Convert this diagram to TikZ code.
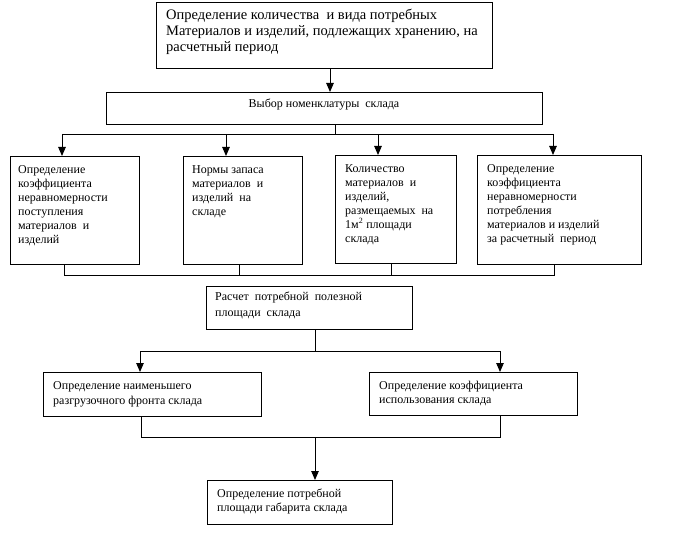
\documentclass[tikz,border=0pt]{standalone}
\usepackage{fontspec}
\setmainfont{Liberation Serif}
\usetikzlibrary{arrows.meta}
\begin{document}
\begin{tikzpicture}[x=1pt,y=-1pt,
  box/.style={draw, line width=1.1pt, inner sep=0pt, anchor=north west},
  txt/.style={inner sep=0pt, anchor=north west, align=left, font=\fontsize{12}{14}\selectfont},
  conn/.style={line width=0.9pt},
  arr/.style={conn, -{Triangle[width=7.5pt,length=9pt]}}]
\path[fill=white, use as bounding box] (0,0) rectangle (674,540);

% boxes
\node[box, minimum width=336pt, minimum height=66pt] (top) at (156,2) {};
\node[box, minimum width=436pt, minimum height=32pt] (nom) at (106,92) {};
\node[box, minimum width=129pt, minimum height=108pt] (b1) at (10,156) {};
\node[box, minimum width=119pt, minimum height=108pt] (b2) at (183,156) {};
\node[box, minimum width=121pt, minimum height=108pt] (b3) at (335,155) {};
\node[box, minimum width=164pt, minimum height=109pt] (b4) at (477,155) {};
\node[box, minimum width=206pt, minimum height=43pt] (calc) at (206,286) {};
\node[box, minimum width=218pt, minimum height=44pt] (bl) at (43,372) {};
\node[box, minimum width=208pt, minimum height=43pt] (br) at (369,372) {};
\node[box, minimum width=185pt, minimum height=44pt] (bot) at (207,480) {};

% texts
\node[txt, font=\fontsize{14.5}{16}\selectfont] (ttop) at (166,9) {Определение количества\ \ и вида потребных\\Материалов и изделий, подлежащих хранению, на\\расчетный период};
\node[inner sep=0pt, font=\fontsize{12}{14}\selectfont] (tnom) at (324,105) {Выбор номенклатуры\ \ склада};
\node[txt] (t1) at (18,165) {Определение\\коэффициента\\неравномерности\\поступления\\материалов\ \ и\\изделий};
\node[txt] (t2) at (192,165) {Нормы запаса\\материалов\ \ и\\изделий\ \ на\\складе};
\node[txt] (t3) at (345,164) {Количество\\материалов\ \ и\\изделий,\\размещаемых\ \ на\\1м\textsuperscript{2} площади\\склада};
\node[txt] (t4) at (487,164) {Определение\\коэффициента\\неравномерности\\потребления\\материалов и изделий\\за расчетный\ \ период};
\node[txt, font=\fontsize{12}{16}\selectfont] (tcalc) at (215,292) {Расчет\ \ потребной\ \ полезной\\площади\ \ склада};
\node[txt, font=\fontsize{12}{15}\selectfont] (tl) at (53,381) {Определение наименьшего\\разгрузочного фронта склада};
\node[txt] (tr) at (379,381) {Определение коэффициента\\использования склада};
\node[txt] (tb) at (217,489) {Определение потребной\\площади габарита склада};

% connectors: top -> nom
\coordinate (c0) at (330,80);
\draw[arr] (c0 |- top.south) -- (c0 |- nom.north);

% nom -> row of four
\coordinate (bus1) at (335,134);
\coordinate (a1) at (62,134);
\coordinate (a2) at (226,134);
\coordinate (a3) at (378,134);
\coordinate (a4) at (553,134);
\draw[conn] (bus1 |- nom.south) -- (bus1);
\draw[conn] (a1) -- (a4);
\draw[arr] (a1) -- (a1 |- b1.north);
\draw[arr] (a2) -- (a2 |- b2.north);
\draw[arr] (a3) -- (a3 |- b3.north);
\draw[arr] (a4) -- (a4 |- b4.north);

% row of four -> lower bus
\coordinate (d1) at (64,275);
\coordinate (d2) at (239,275);
\coordinate (d3) at (391,275);
\coordinate (d4) at (554,275);
\draw[conn] (d1 |- b1.south) -- (d1) -- (d4) -- (d4 |- b4.south);
\draw[conn] (d2 |- b2.south) -- (d2);
\draw[conn] (d3 |- b3.south) -- (d3);

% calc -> two boxes
\coordinate (bus2) at (315,351);
\coordinate (e1) at (140,351);
\coordinate (e2) at (500,351);
\draw[conn] (bus2 |- calc.south) -- (bus2);
\draw[conn] (e1) -- (e2);
\draw[arr] (e1) -- (e1 |- bl.north);
\draw[arr] (e2) -- (e2 |- br.north);

% two boxes -> bottom
\coordinate (f1) at (141,437);
\coordinate (f2) at (500,437);
\coordinate (bus3) at (315,437);
\draw[conn] (f1 |- bl.south) -- (f1) -- (f2) -- (f2 |- br.south);
\draw[arr] (bus3) -- (bus3 |- bot.north);
\end{tikzpicture}
\end{document}
